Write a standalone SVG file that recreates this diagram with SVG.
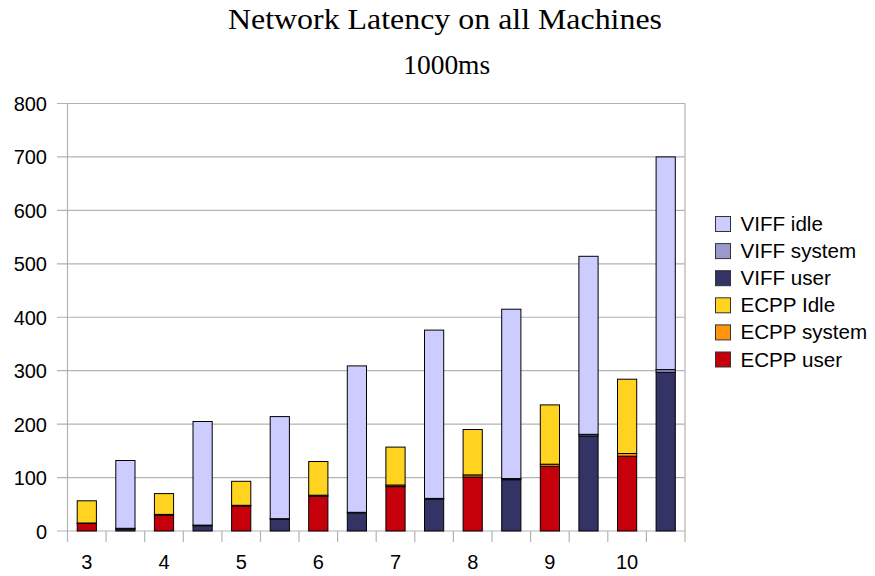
<svg xmlns="http://www.w3.org/2000/svg" width="875" height="576" viewBox="0 0 875 576">
<style>
.t{font-family:"Liberation Serif","Times New Roman",serif;fill:#000}
.s{font-family:"Liberation Sans",Arial,sans-serif;font-size:20px;fill:#000}
.l{font-size:20.6px}
.g{stroke:#b3b3b3;stroke-width:1.2;fill:none}
.b{stroke:#000;stroke-width:1}
.vi{fill:#ccccff}.vs{fill:#9999cc}.vu{fill:#333366}
.ei{fill:#ffd320}.es{fill:#ff950e}.eu{fill:#c5000b}
.lg{stroke:#333;stroke-width:1}
</style>
<rect width="875" height="576" fill="#fff"/>
<g id="title">
<text class="t" x="445" y="29" font-size="29" text-anchor="middle" textLength="434" lengthAdjust="spacingAndGlyphs">Network Latency on all Machines</text>
<text class="t" x="446.7" y="74" font-size="27" text-anchor="middle" textLength="87" lengthAdjust="spacingAndGlyphs">1000ms</text>
</g>
<g id="grid">
<path class="g" d="M57 103.5H685M57 156.9H685M57 210.4H685M57 263.8H685M57 317.25H685M57 370.7H685M57 424.1H685M57 477.6H685M57 531H685"/>
<path class="g" d="M67.5 103.5V542M685 103.5V542M106.1 531V542M144.7 531V542M183.3 531V542M221.9 531V542M260.5 531V542M299 531V542M337.6 531V542M376.2 531V542M414.8 531V542M453.4 531V542M492 531V542M530.6 531V542M569.2 531V542M607.8 531V542M646.4 531V542"/>
</g>
<g id="yaxis" class="s" text-anchor="end">
<text x="47" y="111">800</text>
<text x="47" y="164.4">700</text>
<text x="47" y="217.9">600</text>
<text x="47" y="271.3">500</text>
<text x="47" y="324.8">400</text>
<text x="47" y="378.2">300</text>
<text x="47" y="431.6">200</text>
<text x="47" y="485.1">100</text>
<text x="47" y="538.5">0</text>
</g>
<g id="xaxis" class="s" text-anchor="middle">
<text x="86.8" y="569">3</text>
<text x="164" y="569">4</text>
<text x="241.2" y="569">5</text>
<text x="318.3" y="569">6</text>
<text x="395.5" y="569">7</text>
<text x="472.7" y="569">8</text>
<text x="549.9" y="569">9</text>
<text x="627.1" y="569">10</text>
</g>
<g id="bars" class="b">
<g id="ecpp3"><rect class="eu" x="77.2" y="523.5" width="19.2" height="7.5"/><rect class="es" x="77.2" y="523" width="19.2" height="0.5"/><rect class="ei" x="77.2" y="500.8" width="19.2" height="22.2"/></g>
<g id="viff3"><rect class="vu" x="115.8" y="528.9" width="19.2" height="2.1"/><rect class="vs" x="115.8" y="528.3" width="19.2" height="0.6"/><rect class="vi" x="115.8" y="460.5" width="19.2" height="67.8"/></g>
<g id="ecpp4"><rect class="eu" x="154.4" y="515" width="19.2" height="16"/><rect class="es" x="154.4" y="514.4" width="19.2" height="0.6"/><rect class="ei" x="154.4" y="493.6" width="19.2" height="20.8"/></g>
<g id="viff4"><rect class="vu" x="193" y="525.7" width="19.2" height="5.3"/><rect class="vs" x="193" y="525.1" width="19.2" height="0.6"/><rect class="vi" x="193" y="421.5" width="19.2" height="103.6"/></g>
<g id="ecpp5"><rect class="eu" x="231.6" y="505.9" width="19.2" height="25.1"/><rect class="es" x="231.6" y="505.3" width="19.2" height="0.6"/><rect class="ei" x="231.6" y="481.3" width="19.2" height="24"/></g>
<g id="viff5"><rect class="vu" x="270.2" y="519.2" width="19.2" height="11.8"/><rect class="vs" x="270.2" y="518.7" width="19.2" height="0.5"/><rect class="vi" x="270.2" y="416.6" width="19.2" height="102.1"/></g>
<g id="ecpp6"><rect class="eu" x="308.7" y="496.3" width="19.2" height="34.7"/><rect class="es" x="308.7" y="495.2" width="19.2" height="1.1"/><rect class="ei" x="308.7" y="461.5" width="19.2" height="33.7"/></g>
<g id="viff6"><rect class="vu" x="347.3" y="512.8" width="19.2" height="18.2"/><rect class="vs" x="347.3" y="512.3" width="19.2" height="0.5"/><rect class="vi" x="347.3" y="365.9" width="19.2" height="146.4"/></g>
<g id="ecpp7"><rect class="eu" x="385.9" y="486.6" width="19.2" height="44.4"/><rect class="es" x="385.9" y="485" width="19.2" height="1.6"/><rect class="ei" x="385.9" y="447.1" width="19.2" height="37.9"/></g>
<g id="viff7"><rect class="vu" x="424.5" y="498.9" width="19.2" height="32.1"/><rect class="vs" x="424.5" y="498.4" width="19.2" height="0.5"/><rect class="vi" x="424.5" y="330.1" width="19.2" height="168.3"/></g>
<g id="ecpp8"><rect class="eu" x="463.1" y="477" width="19.2" height="54"/><rect class="es" x="463.1" y="474.9" width="19.2" height="2.1"/><rect class="ei" x="463.1" y="429.5" width="19.2" height="45.4"/></g>
<g id="viff8"><rect class="vu" x="501.7" y="479.7" width="19.2" height="51.3"/><rect class="vs" x="501.7" y="478.6" width="19.2" height="1.1"/><rect class="vi" x="501.7" y="309.2" width="19.2" height="169.4"/></g>
<g id="ecpp9"><rect class="eu" x="540.3" y="466.3" width="19.2" height="64.7"/><rect class="es" x="540.3" y="464.2" width="19.2" height="2.1"/><rect class="ei" x="540.3" y="404.9" width="19.2" height="59.3"/></g>
<g id="viff9"><rect class="vu" x="578.9" y="435.9" width="19.2" height="95.1"/><rect class="vs" x="578.9" y="434.3" width="19.2" height="1.6"/><rect class="vi" x="578.9" y="256.3" width="19.2" height="178"/></g>
<g id="ecpp10"><rect class="eu" x="617.5" y="456.2" width="19.2" height="74.8"/><rect class="es" x="617.5" y="453.5" width="19.2" height="2.7"/><rect class="ei" x="617.5" y="379.2" width="19.2" height="74.3"/></g>
<g id="viff10"><rect class="vu" x="656.1" y="372.3" width="19.2" height="158.7"/><rect class="vs" x="656.1" y="369.6" width="19.2" height="2.7"/><rect class="vi" x="656.1" y="156.9" width="19.2" height="212.7"/></g>
</g>
<g id="legend">
<g id="lg-viff-idle"><rect class="lg vi" x="715.5" y="216.5" width="15" height="15"/><text class="s l" x="740.5" y="231">VIFF idle</text></g>
<g id="lg-viff-system"><rect class="lg vs" x="715.5" y="243.6" width="15" height="15"/><text class="s l" x="740.5" y="258.1">VIFF system</text></g>
<g id="lg-viff-user"><rect class="lg vu" x="715.5" y="270.7" width="15" height="15"/><text class="s l" x="740.5" y="285.2">VIFF user</text></g>
<g id="lg-ecpp-idle"><rect class="lg ei" x="715.5" y="297.8" width="15" height="15"/><text class="s l" x="740.5" y="312.3">ECPP Idle</text></g>
<g id="lg-ecpp-system"><rect class="lg es" x="715.5" y="324.9" width="15" height="15"/><text class="s l" x="740.5" y="339.4">ECPP system</text></g>
<g id="lg-ecpp-user"><rect class="lg eu" x="715.5" y="352" width="15" height="15"/><text class="s l" x="740.5" y="366.5">ECPP user</text></g>
</g>
</svg>
